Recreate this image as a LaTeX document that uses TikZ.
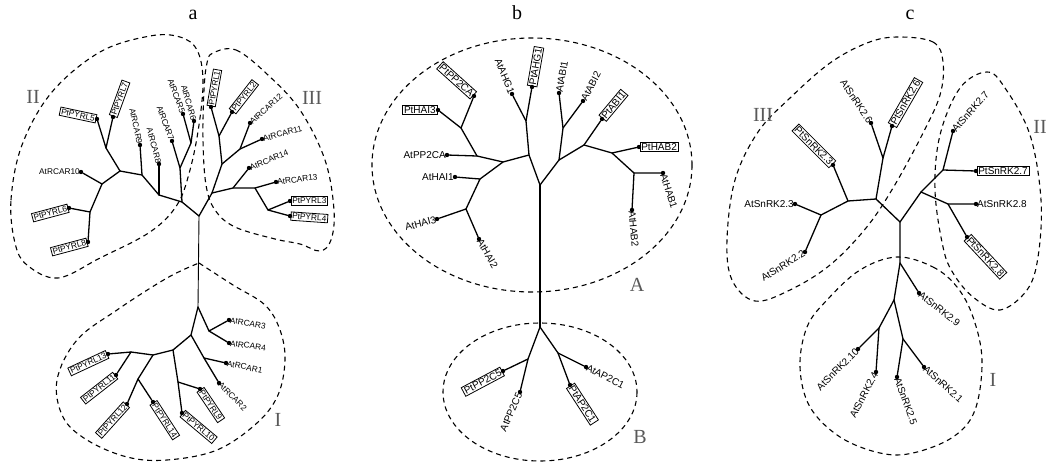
\documentclass[tikz,border=0pt]{standalone}
\usepackage{fontspec}
\setmainfont{Liberation Serif}
\newfontfamily\labfont{Liberation Sans}
\usetikzlibrary{positioning}

\begin{document}
\begin{tikzpicture}[x=1pt,y=-1pt,
  br/.style={line width=1.3pt,line cap=round,line join=round},
  dot/.style={circle,fill=black,minimum size=4.4pt,inner sep=0pt},
  tx/.style={inner sep=1pt,font=\labfont\fontsize{8.3}{9}\selectfont},
  txl/.style={inner sep=1pt,font=\labfont\fontsize{10}{11}\selectfont},
  bx/.style={draw,line width=0.8pt,inner sep=1.3pt,outer sep=1pt},
  grp/.style={dash pattern=on 5pt off 4pt,line width=1.1pt},
  roman/.style={text=black!65,font=\fontsize{20}{22}\selectfont},
  panel/.style={font=\fontsize{20}{22}\selectfont}]
  \useasboundingbox (0,0) rectangle (1051,463);

  % ---------------- panel a ----------------
  \node[panel] (la) at (193,15) {a};
  \coordinate (a0) at (199,216);  \coordinate (a1) at (182,202);
  \coordinate (a2) at (159,195);  \coordinate (a3) at (142,175);
  \coordinate (a4) at (120,171);  \coordinate (a5) at (106,148);
  \coordinate (a6) at (102,184);  \coordinate (a7) at (90,212);
  \coordinate (a8) at (180,168);  \coordinate (a9) at (191,143);
  \coordinate (a10) at (212,193); \coordinate (a11) at (233,188);
  \coordinate (a12) at (255,188); \coordinate (a13) at (268,210);
  \coordinate (a14) at (222,164); \coordinate (a15) at (219,136);
  \coordinate (a16) at (240,149);
  \coordinate (a20) at (198,307); \coordinate (a21) at (209,331);
  \coordinate (a22) at (191,335); \coordinate (a23) at (204,358);
  \coordinate (a24) at (173,350); \coordinate (a25) at (178,382);
  \coordinate (a26) at (153,355); \coordinate (a27) at (138,379);
  \coordinate (a28) at (131,352);

  \node[dot] (aP5) at (97,119) {};   \node[dot] (aP7) at (113,117) {};
  \node[dot] (aR9) at (140,145) {};  \node[dot] (aR8) at (159,164) {};
  \node[dot] (aR7) at (172,141) {};  \node[dot] (aR5) at (183,114) {};
  \node[dot] (aR6) at (194,121) {};  \node[dot] (aP1) at (211,107) {};
  \node[dot] (aP2) at (232,112) {};  \node[dot] (aR12) at (250,123) {};
  \node[dot] (aR11) at (262,139) {}; \node[dot] (aR14) at (249,168) {};
  \node[dot] (aR13) at (276,182) {}; \node[dot] (aP3) at (290,201) {};
  \node[dot] (aP4) at (290,216) {};  \node[dot] (aR10) at (81,172) {};
  \node[dot] (aP6) at (69,208) {};   \node[dot] (aP8) at (88,242) {};
  \node[dot] (aR3) at (229,320) {};  \node[dot] (aR4) at (229,343) {};
  \node[dot] (aR1) at (226,363) {};  \node[dot] (aR2) at (219,383) {};
  \node[dot] (aP9) at (200,389) {};  \node[dot] (aP10) at (182,413) {};
  \node[dot] (aP14) at (153,402) {}; \node[dot] (aP12) at (127,404) {};
  \node[dot] (aP11) at (116,375) {}; \node[dot] (aP13) at (108,354) {};

  \draw[br] (a0) -- (a1) -- (a2) -- (a3) -- (a4) -- (a5) -- (aP5);
  \draw[br] (a5) -- (aP7);
  \draw[br] (a4) -- (a6) -- (a7) -- (aP6);
  \draw[br] (a7) -- (aP8);
  \draw[br] (a6) -- (aR10);
  \draw[br] (a3) -- (aR9);
  \draw[br] (a2) -- (aR8);
  \draw[br] (a1) -- (a8) -- (aR7);
  \draw[br] (a8) -- (a9) -- (aR5);
  \draw[br] (a9) -- (aR6);
  \draw[br] (a0) -- (a10) -- (a11) -- (a12) -- (aR13);
  \draw[br] (a11) -- (aR14);
  \draw[br] (a12) -- (a13) -- (aP3);
  \draw[br] (a13) -- (aP4);
  \draw[br] (a10) -- (a14) -- (a15) -- (aP1);
  \draw[br] (a15) -- (aP2);
  \draw[br] (a14) -- (a16) -- (aR12);
  \draw[br] (a16) -- (aR11);
  \draw[line width=0.9pt] (a0) -- (a20);
  \draw[br] (a20) -- (a21) -- (aR3);
  \draw[br] (a21) -- (aR4);
  \draw[br] (a20) -- (a22) -- (a23) -- (aR2);
  \draw[br] (a23) -- (aR1);
  \draw[br] (a22) -- (a24) -- (a25) -- (aP10);
  \draw[br] (a25) -- (aP9);
  \draw[br] (a24) -- (a26) -- (a27) -- (aP12);
  \draw[br] (a27) -- (aP14);
  \draw[br] (a26) -- (a28) -- (aP13);
  \draw[br] (a28) -- (aP11);

  \node[tx,bx,rotate=-12,anchor=east] (taP5) at (aP5) {PtPYRL5};
  \node[tx,bx,rotate=70,anchor=west] (taP7) at (aP7) {PtPYRL7};
  \node[tx,rotate=-78,anchor=east] (taR9) at (aR9) {AtRCAR9};
  \node[tx,rotate=-75,anchor=east] (taR8) at (aR8) {AtRCAR8};
  \node[tx,rotate=-70,anchor=east] (taR7) at (aR7) {AtRCAR7};
  \node[tx,rotate=-70,anchor=east] (taR5) at (aR5) {AtRCAR5};
  \node[tx,rotate=-74,anchor=east] (taR6) at (aR6) {AtRCAR6};
  \node[tx,bx,rotate=80,anchor=west] (taP1) at (aP1) {PtPYRL1};
  \node[tx,bx,rotate=52,anchor=west] (taP2) at (aP2) {PtPYRL2};
  \node[tx,rotate=42,anchor=west] (taR12) at (aR12) {AtRCAR12};
  \node[tx,rotate=15,anchor=west] (taR11) at (aR11) {AtRCAR11};
  \node[tx,rotate=22,anchor=west] (taR14) at (aR14) {AtRCAR14};
  \node[tx,rotate=7,anchor=west] (taR13) at (aR13) {AtRCAR13};
  \node[tx,bx,anchor=west] (taP3) at (aP3) {PtPYRL3};
  \node[tx,bx,rotate=-4,anchor=west] (taP4) at (aP4) {PtPYRL4};
  \node[tx,anchor=east] (taR10) at (aR10) {AtRCAR10};
  \node[tx,bx,rotate=15,anchor=east] (taP6) at (aP6) {PtPYRL6};
  \node[tx,bx,rotate=15,anchor=east] (taP8) at (aP8) {PtPYRL8};
  \node[tx,rotate=-10,anchor=west] (taR3) at (aR3) {AtRCAR3};
  \node[tx,rotate=-8,anchor=west] (taR4) at (aR4) {AtRCAR4};
  \node[tx,rotate=-12,anchor=west] (taR1) at (aR1) {AtRCAR1};
  \node[tx,rotate=-45,anchor=west] (taR2) at (aR2) {AtRCAR2};
  \node[tx,bx,rotate=-56,anchor=west] (taP9) at (aP9) {PtPYRL9};
  \node[tx,bx,rotate=-40,anchor=west] (taP10) at (aP10) {PtPYRL10};
  \node[tx,bx,rotate=-57,anchor=west] (taP14) at (aP14) {PtPYRL14};
  \node[tx,bx,rotate=48,anchor=east] (taP12) at (aP12) {PtPYRL12};
  \node[tx,bx,rotate=38,anchor=east] (taP11) at (aP11) {PtPYRL11};
  \node[tx,bx,rotate=25,anchor=east] (taP13) at (aP13) {PtPYRL13};

  \draw[grp] plot[smooth cycle,tension=0.6] coordinates {(15,243) (11,200) (22,145)
    (52,92) (100,52) (150,36) (180,37) (197,50) (203,80) (199,125) (190,170)
    (177,205) (150,232) (100,258) (58,278) (27,265)};
  \draw[grp] plot[smooth cycle,tension=0.6] coordinates {(213,53) (236,50) (268,75)
    (300,110) (325,160) (334,210) (331,240) (320,251) (300,244) (275,239)
    (235,227) (215,210) (206,185) (203,140) (204,90) (207,63)};
  \draw[grp] plot[smooth,tension=0.6] coordinates {(199,263) (233,285) (265,305)
    (280,330) (285,360) (278,395) (257,423) (217,450) (167,460) (127,457)
    (87,440) (63,417) (57,380) (77,340) (117,310) (167,278) (199,263)};
  \node[roman] (aII) at (33,97) {II};
  \node[roman] (aIII) at (312,98) {III};
  \node[roman] (aI) at (278,420) {I};

  % ---------------- panel b ----------------
  \node[panel] (lb) at (517,13) {b};
  \coordinate (b0) at (540,185);  \coordinate (b1) at (529,155);
  \coordinate (b2) at (526,121);  \coordinate (b3) at (503,162);
  \coordinate (b4) at (477,156);  \coordinate (b5) at (461,128);
  \coordinate (b6) at (480,179);  \coordinate (b7) at (466,209);
  \coordinate (b8) at (559,160);  \coordinate (b9) at (563,128);
  \coordinate (b10) at (584,145); \coordinate (b11) at (612,153);
  \coordinate (b12) at (634,173);
  \coordinate (b20) at (540,327); \coordinate (b21) at (528,359);
  \coordinate (b22) at (558,353);

  \node[dot] (bH3) at (438,110) {};  \node[dot] (bC2) at (474,96) {};
  \node[dot] (bG1) at (512,94) {};   \node[dot] (bPG) at (532,87) {};
  \node[dot] (bA1) at (559,93) {};   \node[dot] (bA2) at (583,101) {};
  \node[dot] (bPA) at (602,119) {};  \node[dot] (bPB) at (639,147) {};
  \node[dot] (bB1) at (663,173) {};  \node[dot] (bB2) at (632,210) {};
  \node[dot] (bCA) at (447,155) {};  \node[dot] (bI1) at (455,177) {};
  \node[dot] (bI3) at (437,219) {};  \node[dot] (bI2) at (479,239) {};
  \node[dot] (bP5) at (503,371) {};  \node[dot] (bC5) at (520,392) {};
  \node[dot] (bD1) at (586,367) {};  \node[dot] (bPD) at (570,385) {};

  \draw[br] (b0) -- (b1) -- (b2) -- (bG1);
  \draw[br] (b2) -- (bPG);
  \draw[br] (b1) -- (b3) -- (b4) -- (bCA);
  \draw[br] (b4) -- (b5) -- (bH3);
  \draw[br] (b5) -- (bC2);
  \draw[br] (b3) -- (b6) -- (bI1);
  \draw[br] (b6) -- (b7) -- (bI3);
  \draw[br] (b7) -- (bI2);
  \draw[br] (b0) -- (b8) -- (b9) -- (bA1);
  \draw[br] (b9) -- (bA2);
  \draw[br] (b8) -- (b10) -- (bPA);
  \draw[br] (b10) -- (b11) -- (bPB);
  \draw[br] (b11) -- (b12) -- (bB1);
  \draw[br] (b12) -- (bB2);
  \draw[line width=1.1pt] (b0) -- (b20);
  \draw[br] (b20) -- (b21) -- (bP5);
  \draw[br] (b21) -- (bC5);
  \draw[br] (b20) -- (b22) -- (bD1);
  \draw[br] (b22) -- (bPD);

  \node[txl,bx,anchor=east] (tbH3) at (bH3) {PtHAI3};
  \node[txl,bx,rotate=-42,anchor=east] (tbC2) at (bC2) {PtPP2CA};
  \node[txl,rotate=-68,anchor=east] (tbG1) at (bG1) {AtAHG1};
  \node[txl,bx,rotate=80,anchor=west] (tbPG) at (bPG) {PtAHG1};
  \node[txl,rotate=80,anchor=west] (tbA1) at (bA1) {AtABI1};
  \node[txl,rotate=62,anchor=west] (tbA2) at (bA2) {AtABI2};
  \node[txl,bx,rotate=50,anchor=west] (tbPA) at (bPA) {PtABI1};
  \node[txl,bx,anchor=west] (tbPB) at (bPB) {PtHAB2};
  \node[txl,rotate=-72,anchor=west] (tbB1) at (bB1) {AtHAB1};
  \node[txl,rotate=-85,anchor=west] (tbB2) at (bB2) {AtHAB2};
  \node[txl,anchor=east] (tbCA) at (bCA) {AtPP2CA};
  \node[txl,anchor=east] (tbI1) at (bI1) {AtHAI1};
  \node[txl,rotate=15,anchor=east] (tbI3) at (bI3) {AtHAI3};
  \node[txl,rotate=-60,anchor=west] (tbI2) at (bI2) {AtHAI2};
  \node[txl,bx,rotate=28,anchor=east] (tbP5) at (bP5) {PtPP2C5};
  \node[txl,rotate=66,anchor=east] (tbC5) at (bC5) {AtPP2C5};
  \node[txl,rotate=-27,anchor=west] (tbD1) at (bD1) {AtAP2C1};
  \node[txl,bx,rotate=-57,anchor=west] (tbPD) at (bPD) {PtAP2C1};

  \draw[grp] (532,165) ellipse [x radius=160,y radius=127];
  \draw[grp] (540,392) ellipse [x radius=97,y radius=69];
  \node[roman] (bA) at (637,285) {A};
  \node[roman] (bB) at (640,437) {B};

  % ---------------- panel c ----------------
  \node[panel] (lc) at (910,15) {c};
  \coordinate (c0) at (900,222);  \coordinate (c1) at (876,199);
  \coordinate (c2) at (883,158);  \coordinate (c3) at (848,201);
  \coordinate (c4) at (821,215);  \coordinate (c5) at (921,192);
  \coordinate (c6) at (943,170);  \coordinate (c7) at (948,204);
  \coordinate (c10) at (900,263); \coordinate (c11) at (894,300);
  \coordinate (c12) at (879,328); \coordinate (c13) at (903,339);

  \node[dot] (cS6) at (871,123) {};  \node[dot] (cP6) at (892,126) {};
  \node[dot] (cP3) at (833,165) {};  \node[dot] (cS3) at (795,204) {};
  \node[dot] (cS2) at (805,252) {};  \node[dot] (cS7) at (953,131) {};
  \node[dot] (cP7) at (976,171) {};  \node[dot] (cS8) at (976,204) {};
  \node[dot] (cP8) at (967,237) {};  \node[dot] (cS9) at (919,293) {};
  \node[dot] (cS10) at (858,349) {}; \node[dot] (cS4) at (876,372) {};
  \node[dot] (cS5) at (897,377) {};  \node[dot] (cS1) at (924,367) {};

  \draw[br] (c0) -- (c1) -- (c2) -- (cS6);
  \draw[br] (c2) -- (cP6);
  \draw[br] (c1) -- (c3) -- (cP3);
  \draw[br] (c3) -- (c4) -- (cS3);
  \draw[br] (c4) -- (cS2);
  \draw[br] (c0) -- (c5) -- (c6) -- (cS7);
  \draw[br] (c6) -- (cP7);
  \draw[br] (c5) -- (c7) -- (cS8);
  \draw[br] (c7) -- (cP8);
  \draw[br] (c0) -- (c10) -- (cS9);
  \draw[br] (c10) -- (c11) -- (c12) -- (cS10);
  \draw[br] (c12) -- (cS4);
  \draw[br] (c11) -- (c13) -- (cS5);
  \draw[br] (c13) -- (cS1);

  \node[txl,rotate=-56,anchor=east] (tcS6) at (cS6) {AtSnRK2.6};
  \node[txl,bx,rotate=60,anchor=west] (tcP6) at (cP6) {PtSnRK2.6};
  \node[txl,bx,rotate=-45,anchor=east] (tcP3) at (cP3) {PtSnRK2.3};
  \node[txl,anchor=east] (tcS3) at (cS3) {AtSnRK2.3};
  \node[txl,rotate=32,anchor=east] (tcS2) at (cS2) {AtSnRK2.2};
  \node[txl,rotate=48,anchor=west] (tcS7) at (cS7) {AtSnRK2.7};
  \node[txl,bx,anchor=west] (tcP7) at (cP7) {PtSnRK2.7};
  \node[txl,anchor=west] (tcS8) at (cS8) {AtSnRK2.8};
  \node[txl,bx,rotate=-47,anchor=west] (tcP8) at (cP8) {PtSnRK2.8};
  \node[txl,rotate=-38,anchor=west] (tcS9) at (cS9) {AtSnRK2.9};
  \node[txl,rotate=45,anchor=east] (tcS10) at (cS10) {AtSnRK2.10};
  \node[txl,rotate=62,anchor=east] (tcS4) at (cS4) {AtSnRK2.4};
  \node[txl,rotate=-70,anchor=west] (tcS5) at (cS5) {AtSnRK2.5};
  \node[txl,rotate=-42,anchor=west] (tcS1) at (cS1) {AtSnRK2.1};

  \draw[grp] plot[smooth cycle,tension=0.6] coordinates {(897,37) (933,42) (943,62)
    (940,95) (922,135) (893,188) (866,228) (830,265) (790,290) (755,301)
    (732,280) (727,240) (735,180) (758,132) (790,98) (830,63) (867,43)};
  \draw[grp] plot[smooth cycle,tension=0.6] coordinates {(987,72) (1005,88) (1030,135)
    (1041,200) (1038,257) (1027,290) (1000,310) (973,297) (953,273) (943,247)
    (935,190) (940,135) (960,88)};
  \draw[grp] plot[smooth cycle,tension=0.6] coordinates {(897,257) (933,267) (957,287)
    (973,317) (982,360) (975,410) (953,437) (913,453) (880,453) (840,437)
    (810,407) (800,367) (807,327) (827,300) (860,270)};
  \node[roman] (cIII) at (763,115) {III};
  \node[roman] (cII) at (1040,127) {II};
  \node[roman] (cI) at (993,380) {I};
\end{tikzpicture}
\end{document}
